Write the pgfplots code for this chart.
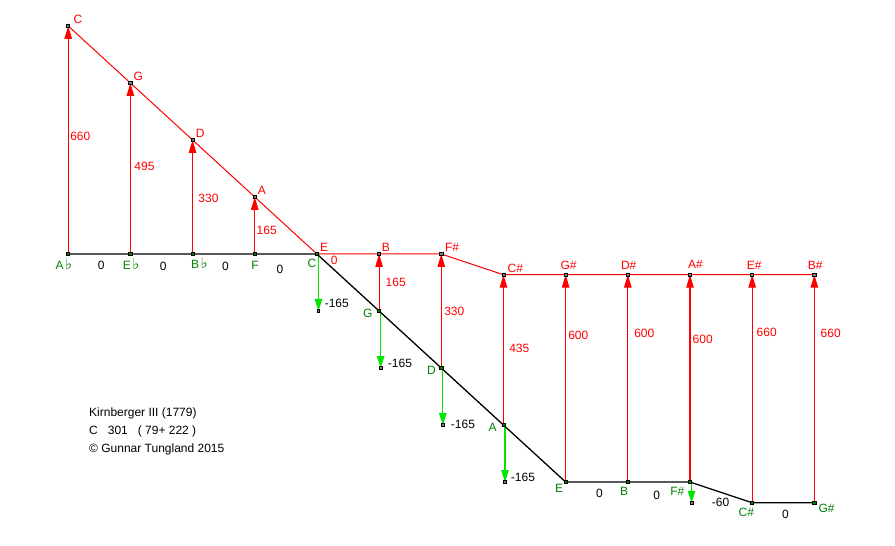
\documentclass[border=0pt]{standalone}
\usepackage{pgfplots}
\pgfplotsset{compat=1.18}
\usepackage{pgfplotstable}
\usepackage{fontspec}
\setmainfont{Liberation Sans}
\newfontfamily\symfont{DejaVu Sans}
\usetikzlibrary{arrows.meta}

\definecolor{lred}{RGB}{255,0,0}
\definecolor{lgreen}{RGB}{0,230,0}
\definecolor{dgreen}{RGB}{0,128,0}

% chain of fifths Ab ... G#: column, deviation
\pgfplotstableread{
i y
0 0
1 0
2 0
3 0
4 0
5 -165
6 -330
7 -495
8 -660
9 -660
10 -660
11 -720
12 -720
}\lowchain

% major thirds above them: C G D A E B F# C# G# D# A# E# B#
\pgfplotstableread{
i y
0 660
1 495
2 330
3 165
4 0
5 0
6 0
7 -60
8 -60
9 -60
10 -60
11 -60
12 -60
}\highchain

% third arrows: start, length
\pgfplotstableread{
i y d
0 0 660
1 0 495
2 0 330
3 0 165
5 -165 165
6 -330 330
7 -495 435
8 -660 600
9 -660 600
10 -660 600
11 -720 660
12 -720 660
}\thirds

% fifth arrows
\pgfplotstableread{
i y d
4.025 0 -165
5.025 -165 -165
6.025 -330 -165
7.025 -495 -165
10.025 -660 -60
}\fifths

\newcommand\flt{\kern1.5pt{\symfont\fontsize{15}{15}\selectfont ♭}}

\begin{document}
\begin{tikzpicture}
\begin{axis}[
  at={(0,0)}, anchor=south west,
  scale only axis, width=895pt, height=546pt,
  xmin=-1.0968, xmax=13.2969,
  ymin=-845.15, ymax=735.17,
  hide axis, clip=false,
]
\addplot[lred, line width=1.2pt, quiver={u=0, v=\thisrow{d}},
  -{Triangle[length=13pt,width=7.5pt]}] table[x=i,y=y] {\thirds};
\addplot[lgreen, line width=1.2pt, quiver={u=0, v=\thisrow{d}},
  -{Triangle[length=12pt,width=7.5pt]}] table[x=i,y=y] {\fifths};
\addplot[lred, line width=1pt] table[x=i,y=y] {\highchain};
\addplot[black, line width=1.3pt] table[x=i,y=y] {\lowchain};
% points
\addplot[only marks, mark=square*, mark size=1.6pt,
  mark options={draw=black, fill=gray, line width=0.7pt}] table[x=i,y=y] {\highchain};
\addplot[only marks, mark=square*, mark size=1.6pt,
  mark options={draw=black, fill=green!50!black, line width=0.7pt}] table[x=i,y=y] {\lowchain};
\addplot[only marks, mark=square*, mark size=1.3pt,
  mark options={draw=black, fill=gray, line width=0.7pt}]
  table[x=i, y expr=\thisrow{y}+\thisrow{d}] {\fifths};
\end{axis}

% labels, placed in picture pixels (y down)
\begin{scope}[x=1pt, y=-1pt, shift={(0,546pt)},
  every node/.style={font=\fontsize{12}{14}\selectfont, inner sep=0pt}]
% red note names
\begin{scope}[every node/.append style={text=lred}]
\node at (78,19.5) {C};
\node at (138.2,76.7) {G};
\node at (200.3,133.8) {D};
\node at (261.8,190.5) {A};
\node at (324.2,247) {E};
\node at (385.8,247.8) {B};
\node at (452,247.2) {F\#};
\node at (515.3,268.2) {C\#};
\node at (568.5,265.5) {G\#};
\node at (628.7,265.3) {D\#};
\node at (695.5,264.3) {A\#};
\node at (754.2,265.3) {E\#};
\node at (815.2,265.3) {B\#};
% red values
\node at (80.3,136.7) {660};
\node at (144.5,166.7) {495};
\node at (208.5,198) {330};
\node at (266.7,230.5) {165};
\node at (334.2,260.5) {0};
\node at (395.7,282.5) {165};
\node at (454.3,311.7) {330};
\node at (519.3,348.5) {435};
\node at (578.3,335.8) {600};
\node at (644.3,333.7) {600};
\node at (702.7,339.3) {600};
\node at (766.7,332) {660};
\node at (830.7,333) {660};
\end{scope}
% green note names
\begin{scope}[every node/.append style={text=dgreen}]
\node at (63.8,264.2) {A\flt};
\node at (131.2,263.8) {E\flt};
\node at (199.5,263.5) {B\flt};
\node at (255,265.5) {F};
\node at (312,263.3) {C};
\node at (367.7,313.3) {G};
\node at (431.5,370.8) {D};
\node at (492.5,427.8) {A};
\node at (559.2,488.3) {E};
\node at (624,491) {B};
\node at (677.3,491) {F\#};
\node at (746.3,512.7) {C\#};
\node at (826.5,508.7) {G\#};
\end{scope}
% black values
\node at (101.2,265.5) {0};
\node at (163.3,266) {0};
\node at (225.5,266) {0};
\node at (280,269.5) {0};
\node at (336.8,303.3) {-165};
\node at (400,363.3) {-165};
\node at (463,424.7) {-165};
\node at (523,477.2) {-165};
\node at (599.5,493.3) {0};
\node at (656.7,495.5) {0};
\node at (720.5,502.8) {-60};
\node at (785.5,514.7) {0};
% caption
\node[anchor=base west] at (89,416.5) {Kirnberger III (1779)};
\node[anchor=base west] at (89,434.5) {C\ \ \ 301\ \ \ ( 79+ 222 )};
\node[anchor=base west] at (89,452.5) {© Gunnar Tungland 2015};
\end{scope}
\pgfresetboundingbox
\path (0,0) rectangle (895pt,546pt);
\end{tikzpicture}
\end{document}
